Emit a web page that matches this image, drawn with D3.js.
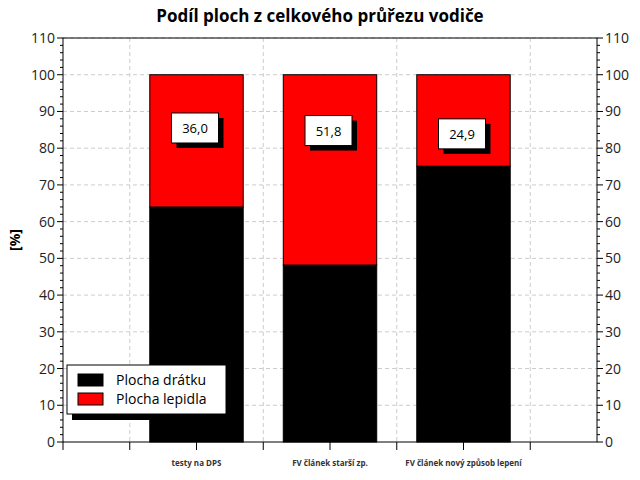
<!DOCTYPE html><html><head><meta charset="utf-8"><script src="https://d3js.org/d3.v7.min.js"></script>
<style>body{margin:0;background:#fff}text{font-family:"Open Sans","DejaVu Sans",sans-serif}</style></head><body><svg width="640" height="480"></svg><script>
const categories=["testy na DPS","FV článek starší zp.","FV článek nový způsob lepení"];
const wire=[64.0,48.2,75.1];
const glue=[36.0,51.8,24.9];
const labels=["36,0","51,8","24,9"];
const labelY=[85.5,84.8,83.9];
const yTicks=d3.range(0,111,10);
const svg=d3.select("svg");
const L=63,R=597,T=38,B=442;
const x=d3.scaleLinear().domain([0,4]).range([L,R]);
const y=d3.scaleLinear().domain([0,110]).range([B,T]);
const g=svg.append("g");
// grid
yTicks.slice(1).forEach(v=>g.append("line").attr("x1",L).attr("x2",R).attr("y1",y(v)).attr("y2",y(v)).attr("stroke","#ccc").attr("stroke-dasharray","4,3"));
[0.5,1.5,2.5,3.5].forEach(v=>g.append("line").attr("x1",x(v)).attr("x2",x(v)).attr("y1",T).attr("y2",B).attr("stroke","#ccc").attr("stroke-dasharray","4,3"));
const bw=x(0.35)-x(0);
categories.forEach((c,i)=>{
 const cx=x(i+1);
 g.append("rect").attr("x",cx-bw).attr("width",2*bw).attr("y",y(wire[i])).attr("height",y(0)-y(wire[i])).attr("fill","#000").attr("stroke","#000");
 g.append("rect").attr("x",cx-bw).attr("width",2*bw).attr("y",y(wire[i]+glue[i])).attr("height",y(wire[i])-y(wire[i]+glue[i])).attr("fill","#f00").attr("stroke","#000");
 const by=y(labelY[i]);
 g.append("rect").attr("x",cx-25+5).attr("y",by-15+5).attr("width",47).attr("height",30).attr("fill","#000");
 g.append("rect").attr("x",cx-25).attr("y",by-15).attr("width",47).attr("height",30).attr("fill","#fff").attr("stroke","#000");
 g.append("text").attr("x",cx-1.5).attr("y",by+5).attr("text-anchor","middle").attr("font-size",13).text(labels[i]);
 g.append("text").attr("x",cx).attr("y",466).attr("text-anchor","middle").attr("font-size",8).attr("font-weight","bold").attr("fill","#333").text(c);
});
// frame
g.append("rect").attr("x",L).attr("y",T).attr("width",R-L).attr("height",B-T).attr("fill","none").attr("stroke","#000");
const yl=d3.axisLeft(y).tickValues(yTicks).tickSize(0).tickPadding(8);
const ya=g.append("g").attr("transform",`translate(${L},0)`).call(yl);
const yr=g.append("g").attr("transform",`translate(${R},0)`).call(d3.axisRight(y).tickValues(yTicks).tickSize(0).tickPadding(8));
[ya,yr].forEach(a=>{a.select(".domain").remove();a.selectAll("text").attr("font-size",14).attr("fill","#222");});
d3.range(0,111,2).forEach(v=>{const len=v%10===0?6:3;
 g.append("line").attr("x1",L-len).attr("x2",L).attr("y1",y(v)).attr("y2",y(v)).attr("stroke","#000");
 g.append("line").attr("x1",R).attr("x2",R+len).attr("y1",y(v)).attr("y2",y(v)).attr("stroke","#000");});
d3.range(0,4,0.5).forEach(v=>g.append("line").attr("x1",x(v)).attr("x2",x(v)).attr("y1",B).attr("y2",B+8).attr("stroke","#000"));
svg.append("text").attr("x",320).attr("y",22).attr("text-anchor","middle").attr("font-size",17).attr("font-weight","bold").text("Podíl ploch z celkového průřezu vodiče");
svg.append("text").attr("transform","translate(20,240) rotate(-90)").attr("text-anchor","middle").attr("font-size",14).attr("font-weight","bold").text("[%]");
// legend
const lg=svg.append("g");
lg.append("rect").attr("x",72).attr("y",370).attr("width",158).height;
lg.append("rect").attr("x",72).attr("y",370).attr("width",158).attr("height",50).attr("fill","#000");
lg.append("rect").attr("x",67).attr("y",365).attr("width",159).attr("height",49).attr("fill","#fff").attr("stroke","#000");
[["Plocha drátku","#000"],["Plocha lepidla","#f00"]].forEach((d,i)=>{
 lg.append("rect").attr("x",78).attr("y",374+i*19).attr("width",25).attr("height",12).attr("fill",d[1]).attr("stroke","#000");
 lg.append("text").attr("x",116).attr("y",385+i*19).attr("font-size",14).text(d[0]);});
</script></body></html>
